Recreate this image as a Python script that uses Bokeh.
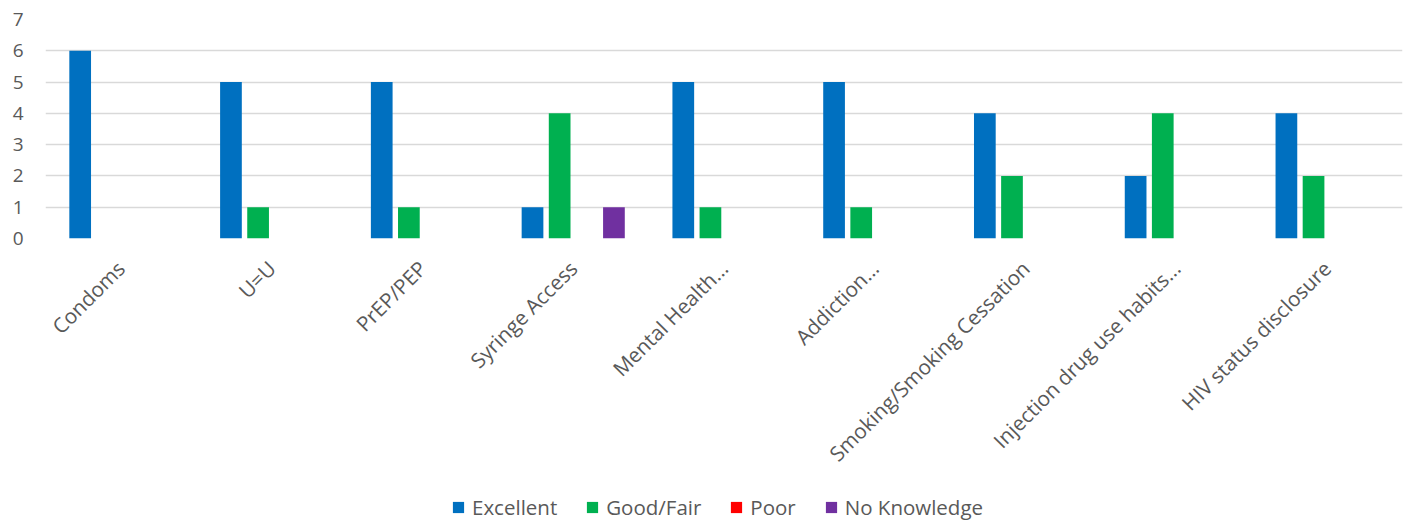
import math
from bokeh.plotting import figure
from bokeh.layouts import column
from bokeh.models import ColumnDataSource, FactorRange, Range1d, FixedTicker, Legend, LegendItem
from bokeh.transform import dodge
from bokeh.embed import file_html
from bokeh.resources import INLINE

categories = ["Condoms", "U=U", "PrEP/PEP", "Syringe Access", "Mental Health...",
              "Addiction...", "Smoking/Smoking Cessation", "Injection drug use habits...",
              "HIV status disclosure"]
series_names = ["Excellent", "Good/Fair", "Poor", "No Knowledge"]
excellent = [6, 5, 5, 1, 5, 5, 4, 2, 4]
good_fair = [0, 1, 1, 4, 1, 1, 2, 4, 2]
poor = [0, 0, 0, 0, 0, 0, 0, 0, 0]
no_knowledge = [0, 0, 0, 1, 0, 0, 0, 0, 0]
y_ticks = [0, 1, 2, 3, 4, 5, 6, 7]

colors = ["#0070C0", "#00B050", "#FF0000", "#7030A0"]
FONT = "Open Sans"
TXT = "#595959"

source = ColumnDataSource(dict(cat=categories, s0=excellent, s1=good_fair, s2=poor, s3=no_knowledge))

p = figure(x_range=FactorRange(*categories), y_range=Range1d(0, 7),
           width=1405, height=490, output_backend="svg", toolbar_location=None,
           min_border_left=45, min_border_right=3, min_border_top=19, min_border_bottom=252)
p.outline_line_color = None

offsets = [-0.27, -0.09, 0.09, 0.27]
for i, off in enumerate(offsets):
    p.vbar(x=dodge("cat", off, range=p.x_range), top="s%d" % i, width=0.144,
           source=source, fill_color=colors[i], line_color=None)

p.yaxis.ticker = FixedTicker(ticks=y_ticks)
p.ygrid.grid_line_color = "#D9D9D9"
p.ygrid.grid_line_width = 1.3
p.xgrid.grid_line_color = None

for ax in (p.xaxis, p.yaxis):
    ax.axis_line_color = None
    ax.major_tick_line_color = None
    ax.minor_tick_line_color = None
    ax.major_tick_out = 0
    ax.major_tick_in = 0
    ax.major_label_text_font = FONT
    ax.major_label_text_color = TXT

p.yaxis.major_label_text_font_size = "19px"
p.xaxis.major_label_text_font_size = "20.7px"
p.yaxis.major_label_standoff = 22
p.xaxis.major_label_orientation = math.pi / 4
p.xaxis.major_label_standoff = 26

# legend strip below the chart (swatches use zero-height dummy bars)
leg_src = ColumnDataSource(dict(x=[0.5], top=[0.0]))
lf = figure(width=1405, height=33, output_backend="svg", toolbar_location=None,
            x_range=Range1d(0, 1), y_range=Range1d(0, 1),
            x_axis_type=None, y_axis_type=None,
            min_border_left=0, min_border_right=0, min_border_top=0, min_border_bottom=0)
lf.outline_line_color = None
lf.xgrid.grid_line_color = None
lf.ygrid.grid_line_color = None
leg_renderers = [lf.vbar(x="x", top="top", bottom=0, width=0.001, source=leg_src,
                         fill_color=c, line_color=None) for c in colors]

legend = Legend(items=[LegendItem(label=n, renderers=[r]) for n, r in zip(series_names, leg_renderers)],
                orientation="horizontal", location=(406, 2),
                glyph_width=14, glyph_height=14, label_standoff=7, spacing=28,
                label_text_font=FONT, label_text_font_size="20.5px", label_text_color=TXT,
                border_line_color=None, background_fill_alpha=0, padding=0, margin=0)
lf.add_layout(legend, "center")

layout = column(p, lf, spacing=0)
open("out.html", "w").write(file_html(layout, INLINE))
